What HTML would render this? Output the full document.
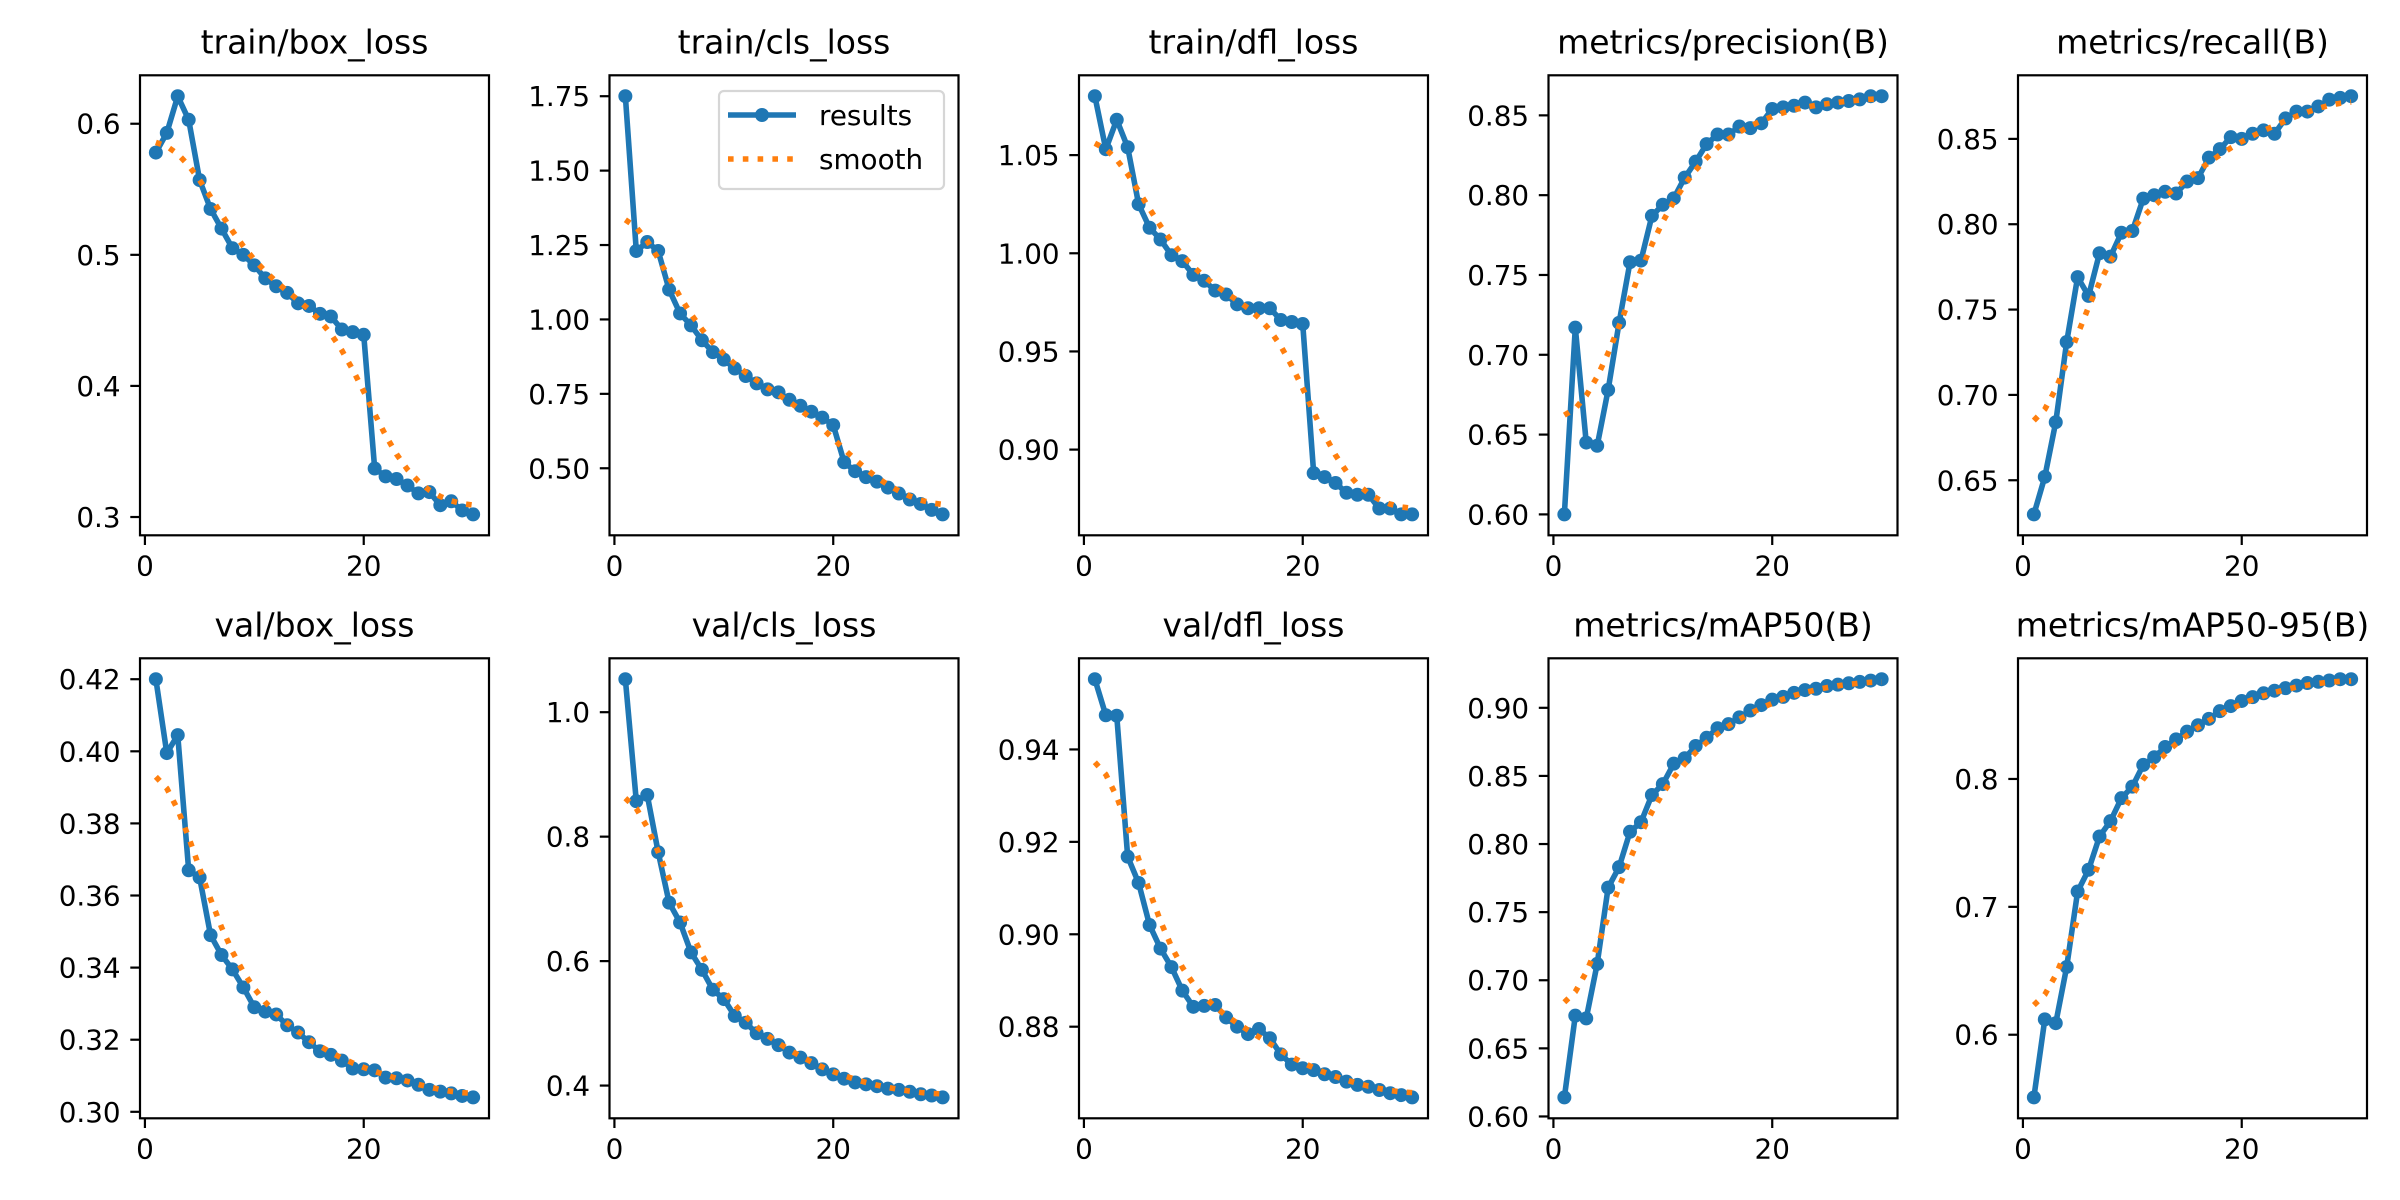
<!DOCTYPE html>
<html><head><meta charset="utf-8"><style>
html,body{margin:0;padding:0;background:#fff;}
svg{display:block;}
text{font-family:"DejaVu Sans","Liberation Sans",sans-serif;fill:#000;}
</style></head><body>
<svg id="fig" xmlns="http://www.w3.org/2000/svg" width="2400" height="1200" viewBox="0 0 2400 1200"></svg>
<script>
const epochs = Array.from({length:30},(_,i)=>i+1);
const titles = ["train/box_loss","train/cls_loss","train/dfl_loss","metrics/precision(B)","metrics/recall(B)","val/box_loss","val/cls_loss","val/dfl_loss","metrics/mAP50(B)","metrics/mAP50-95(B)"];
const trainBox = [0.578,0.593,0.621,0.603,0.557,0.535,0.520,0.505,0.500,0.492,0.482,0.476,0.471,0.463,0.461,0.455,0.453,0.443,0.441,0.439,0.337,0.331,0.329,0.324,0.318,0.319,0.309,0.312,0.305,0.302];
const trainCls = [1.75,1.23,1.26,1.23,1.10,1.02,0.98,0.93,0.89,0.865,0.835,0.81,0.785,0.765,0.755,0.73,0.71,0.69,0.67,0.645,0.52,0.49,0.47,0.455,0.435,0.415,0.395,0.38,0.36,0.345];
const trainDfl = [1.080,1.053,1.068,1.054,1.025,1.013,1.007,0.999,0.996,0.989,0.986,0.981,0.979,0.974,0.972,0.972,0.972,0.966,0.965,0.964,0.888,0.886,0.883,0.878,0.877,0.877,0.870,0.870,0.867,0.867];
const precision = [0.600,0.717,0.645,0.643,0.678,0.720,0.758,0.759,0.787,0.794,0.798,0.811,0.821,0.832,0.838,0.838,0.843,0.842,0.845,0.854,0.855,0.856,0.858,0.855,0.857,0.858,0.859,0.860,0.862,0.862];
const recall = [0.630,0.652,0.684,0.731,0.769,0.758,0.783,0.781,0.795,0.796,0.815,0.817,0.819,0.818,0.825,0.827,0.839,0.844,0.851,0.850,0.853,0.855,0.853,0.862,0.866,0.866,0.869,0.873,0.874,0.875];
const valBox = [0.420,0.3995,0.4045,0.367,0.365,0.349,0.3435,0.3395,0.3345,0.329,0.3278,0.327,0.324,0.322,0.3193,0.3168,0.3158,0.3142,0.312,0.3118,0.3115,0.3095,0.3093,0.3087,0.3075,0.3061,0.3056,0.3051,0.3044,0.304];
const valCls = [1.053,0.857,0.867,0.775,0.694,0.662,0.614,0.586,0.554,0.539,0.512,0.501,0.484,0.475,0.465,0.453,0.445,0.436,0.426,0.418,0.411,0.405,0.402,0.399,0.395,0.393,0.390,0.386,0.384,0.381];
const valDfl = [0.9552,0.9474,0.9473,0.9168,0.9111,0.9020,0.8969,0.8929,0.8878,0.8843,0.8845,0.8847,0.8820,0.8800,0.8784,0.8795,0.8775,0.8740,0.8718,0.8710,0.8706,0.8697,0.8691,0.8681,0.8674,0.8670,0.8663,0.8656,0.8652,0.8647];
const map50 = [0.614,0.674,0.672,0.712,0.768,0.783,0.809,0.816,0.836,0.844,0.859,0.863,0.872,0.878,0.885,0.888,0.893,0.898,0.902,0.906,0.908,0.911,0.913,0.914,0.916,0.917,0.918,0.919,0.920,0.921];
const map5095 = [0.551,0.612,0.609,0.653,0.712,0.729,0.755,0.767,0.785,0.794,0.811,0.817,0.825,0.831,0.837,0.842,0.847,0.853,0.857,0.861,0.864,0.867,0.869,0.871,0.873,0.875,0.876,0.877,0.878,0.878];
const yTicks = [[0.3,0.4,0.5,0.6],[0.5,0.75,1.0,1.25,1.5,1.75],[0.90,0.95,1.00,1.05],[0.60,0.65,0.70,0.75,0.80,0.85],[0.65,0.70,0.75,0.80,0.85],[0.30,0.32,0.34,0.36,0.38,0.40,0.42],[0.4,0.6,0.8,1.0],[0.88,0.90,0.92,0.94],[0.60,0.65,0.70,0.75,0.80,0.85,0.90],[0.6,0.7,0.8]];
const yTickLabels = [["0.3","0.4","0.5","0.6"],["0.50","0.75","1.00","1.25","1.50","1.75"],["0.90","0.95","1.00","1.05"],["0.60","0.65","0.70","0.75","0.80","0.85"],["0.65","0.70","0.75","0.80","0.85"],["0.30","0.32","0.34","0.36","0.38","0.40","0.42"],["0.4","0.6","0.8","1.0"],["0.88","0.90","0.92","0.94"],["0.60","0.65","0.70","0.75","0.80","0.85","0.90"],["0.6","0.7","0.8"]];
const xTicks = [0,20];
const xTickLabels = ["0","20"];
const series = [trainBox,trainCls,trainDfl,precision,recall,valBox,valCls,valDfl,map50,map5095];

const NS="http://www.w3.org/2000/svg";
const svg=document.getElementById('fig');
function mk(tag,attrs,parent){const e=document.createElementNS(NS,tag);for(const k in attrs)e.setAttribute(k,attrs[k]);(parent||svg).appendChild(e);return e;}

function gaussSmooth(y,sigma){
  const r=Math.round(4*sigma);const w=[];let s=0;
  for(let k=-r;k<=r;k++){const v=Math.exp(-0.5*k*k/(sigma*sigma));w.push(v);s+=v;}
  const n=y.length;
  const idx=i=>{while(i<0||i>=n){if(i<0)i=-i-1;if(i>=n)i=2*n-i-1;}return i;};
  return y.map((_,i)=>{let a=0;for(let k=-r;k<=r;k++)a+=w[k+r]*y[idx(i+k)];return a/s;});
}

const lefts=[140,609.5,1079,1548.5,2018], tops=[75.3,658.3], W=349, H=460;
const blue="#1f77b4", orange="#ff7f0e";

series.forEach((ys,p)=>{
  const col=p%5,row=Math.floor(p/5);
  const L=lefts[col],T=tops[row];
  const sm=gaussSmooth(ys,3);
  const all=ys.concat(sm);
  let mn=Math.min(...all),mx=Math.max(...all),rg=mx-mn;
  const y0=mn-0.05*rg,y1=mx+0.05*rg;
  const xs=v=>L+(v+0.45)/31.9*W;
  const yv=v=>T+H-(v-y0)/(y1-y0)*H;
  const g=mk('g',{});
  
  
  const t=mk('text',{x:L+W/2,y:T-22,'font-size':33,'text-anchor':'middle'},g);
  t.textContent=titles[p];
  
  
  const clip=mk('clipPath',{id:'c'+p},g);mk('rect',{x:L,y:T,width:W,height:H},clip);
  // results line
  const pts=ys.map((v,i)=>xs(epochs[i]).toFixed(2)+','+yv(v).toFixed(2)).join(' ');
  const rl=mk('polyline',{points:pts,fill:'none',stroke:blue,'stroke-width':5.6,'stroke-linejoin':'round','clip-path':'url(#c'+p+')'},g);
  
  
  ys.forEach((v,i)=>{
    const c=mk('circle',{cx:xs(epochs[i]),cy:yv(v),r:7,fill:blue},g);
    
    
  });
  const spts=sm.map((v,i)=>xs(epochs[i]).toFixed(2)+','+yv(v).toFixed(2)).join(' ');
  const sl=mk('polyline',{points:spts,fill:'none',stroke:orange,'stroke-width':5.6,'stroke-dasharray':'5.6 9.2','clip-path':'url(#c'+p+')'},g);
  
  
  const fr=mk('rect',{x:L,y:T,width:W,height:H,fill:'none',stroke:'#000','stroke-width':2.2},g);
  
  
  yTicks[p].forEach((v,i)=>{
    const y=yv(v);
    mk('line',{x1:L-9.7,x2:L,y1:y,y2:y,stroke:'#000','stroke-width':2.2},g);
    const tl=mk('text',{x:L-19.4,y:y+10,'font-size':27.8,'text-anchor':'end'},g);
    tl.textContent=yTickLabels[p][i];
    
    
  });
  xTicks.forEach((v,i)=>{
    const x=xs(v);
    mk('line',{x1:x,x2:x,y1:T+H,y2:T+H+9.7,stroke:'#000','stroke-width':2.2},g);
    const tl=mk('text',{x:x,y:T+H+40,'font-size':27.8,'text-anchor':'middle'},g);
    tl.textContent=xTickLabels[i];
    
    
  });
  if(p===1){
    const lg=mk('g',{},g);
    
    
    mk('rect',{x:719,y:91,width:225,height:98,rx:5,fill:'#fff','fill-opacity':0.8,stroke:'#d6d6d6','stroke-width':2.2},lg);
    mk('line',{x1:728,x2:796,y1:115,y2:115,stroke:blue,'stroke-width':5.6},lg);
    mk('circle',{cx:762,cy:115,r:7,fill:blue},lg);
    const a=mk('text',{x:819,y:125,'font-size':27.8},lg);a.textContent='results';
    
    
    mk('line',{x1:728,x2:796,y1:159,y2:159,stroke:orange,'stroke-width':5.6,'stroke-dasharray':'5.6 9.2'},lg);
    const b=mk('text',{x:819,y:169,'font-size':27.8},lg);b.textContent='smooth';
    
    
  }
});
</script>
</body></html>
